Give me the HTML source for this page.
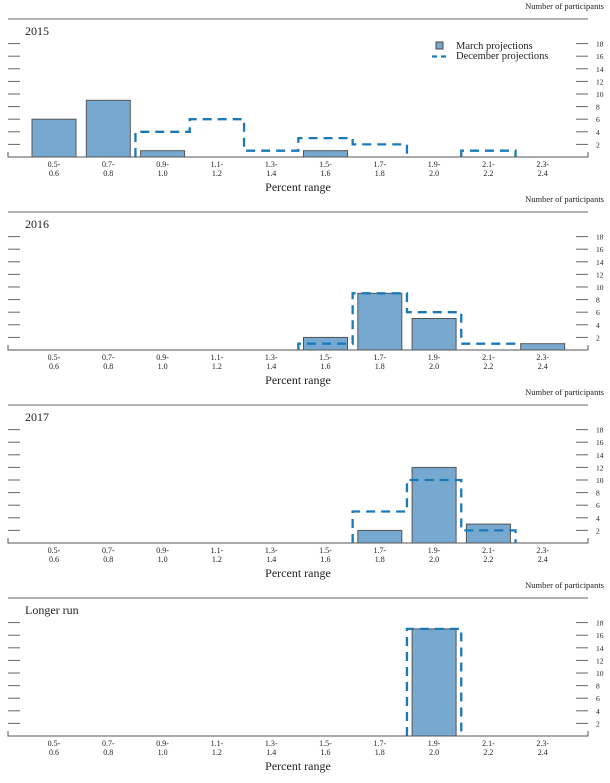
<!DOCTYPE html>
<html><head><meta charset="utf-8"><style>
html,body{margin:0;padding:0;background:#fff;}
svg text{font-family:"Liberation Serif","DejaVu Serif",serif;fill:#222;}
</style></head><body>
<svg id="c" width="610" height="778" xmlns="http://www.w3.org/2000/svg"></svg>
<script>
const categories = ["0.5-|0.6","0.7-|0.8","0.9-|1.0","1.1-|1.2","1.3-|1.4","1.5-|1.6","1.7-|1.8","1.9-|2.0","2.1-|2.2","2.3-|2.4"];
const panelTitles = ["2015","2016","2017","Longer run"];
const march2015 = [6,9,1,0,0,1,0,0,0,0];
const dec2015   = [0,0,4,6,1,3,2,0,1,0];
const march2016 = [0,0,0,0,0,2,9,5,0,1];
const dec2016   = [0,0,0,0,0,1,9,6,1,0];
const march2017 = [0,0,0,0,0,0,2,12,3,0];
const dec2017   = [0,0,0,0,0,0,5,10,2,0];
const marchLR   = [0,0,0,0,0,0,0,17,0,0];
const decLR     = [0,0,0,0,0,0,0,17,0,0];
const yTicks = [2,4,6,8,10,12,14,16,18];

const svg = document.getElementById('c');
const NS = 'http://www.w3.org/2000/svg';
function mk(tag, attrs, parent){const e=document.createElementNS(NS,tag);for(const k in attrs)e.setAttribute(k,attrs[k]);(parent||svg).appendChild(e);return e;}
const marchSets=[march2015,march2016,march2017,marchLR];
const decSets=[dec2015,dec2016,dec2017,decLR];
const step=54.3, x0=54;
function xc(i){return x0+step*i;}
const barW=44;

for(let p=0;p<4;p++){
  const top=19+193*p, base=157+193*p;
  function y(v){return base-v*6.3;}
  const g=mk('g',{});
  
  
  let t=mk('text',{x:604,y:top-10,'font-size':8.5,'text-anchor':'end'},g);t.textContent='Number of participants';
  
  let r=mk('line',{x1:8,x2:588,y1:top,y2:top,stroke:'#666','stroke-width':1},g);
  
  t=mk('text',{x:25,y:top+16,'font-size':12},g);t.textContent=panelTitles[p];
  
  yTicks.forEach(v=>{
    const yy=y(v);
    mk('line',{x1:8,x2:20,y1:yy,y2:yy,stroke:'#666','stroke-width':1},g);
    mk('line',{x1:576,x2:588,y1:yy,y2:yy,stroke:'#666','stroke-width':1},g);
    const tl=mk('text',{x:596,y:yy+3,'font-size':7.5},g);tl.textContent=v;
    
  });
  marchSets[p].forEach((v,i)=>{
    if(v<=0)return;
    const b=mk('rect',{x:xc(i)-barW/2,y:y(v),width:barW,height:base-y(v),fill:'#77a8d0',stroke:'#555','stroke-width':1},g);
    
  });
  const d=decSets[p];
  let first=d.findIndex(v=>v>0), last=d.length-1-[...d].reverse().findIndex(v=>v>0);
  if(first>=0){
    let path='M'+(xc(first)-step/2)+','+base;
    let prev=0;
    for(let i=first;i<=last;i++){
      const l=xc(i)-step/2, rr=xc(i)+step/2;
      if(d[i]>0){
        if(prev===0) path+=' M'+l+','+base;
        path+=' L'+l+','+y(d[i])+' L'+rr+','+y(d[i]);
      } else {
        path+=' L'+l+','+base;
      }
      prev=d[i];
    }
    path+=' L'+(xc(last)+step/2)+','+base;
    const pa=mk('path',{d:path,fill:'none',stroke:'#1a7ab8','stroke-width':2.3,'stroke-dasharray':'9,6'},g);
    
  }
  mk('path',{d:'M8,'+(base-5)+' L8,'+base+' L588,'+base+' L588,'+(base-5),fill:'none',stroke:'#555','stroke-width':1},g);
  categories.forEach((c,i)=>{
    const [a,b2]=c.split('|');
    let t1=mk('text',{x:xc(i),y:base+10,'font-size':8,'text-anchor':'middle'},g);t1.textContent=a;
    
    let t2=mk('text',{x:xc(i),y:base+19,'font-size':8,'text-anchor':'middle'},g);t2.textContent=b2;
    
  });
  t=mk('text',{x:298,y:base+34,'font-size':12,'text-anchor':'middle'},g);t.textContent='Percent range';
  
}
const lg=mk('g',{});

mk('rect',{x:436,y:42,width:7,height:7,fill:'#77a8d0',stroke:'#444','stroke-width':1},lg);
let lt=mk('text',{x:456,y:49,'font-size':10.5},lg);lt.textContent='March projections';
mk('line',{x1:432,x2:449,y1:56.5,y2:56.5,stroke:'#1a7ab8','stroke-width':2.3,'stroke-dasharray':'5,4'},lg);
lt=mk('text',{x:456,y:59,'font-size':10.5},lg);lt.textContent='December projections';
</script>
</body></html>
